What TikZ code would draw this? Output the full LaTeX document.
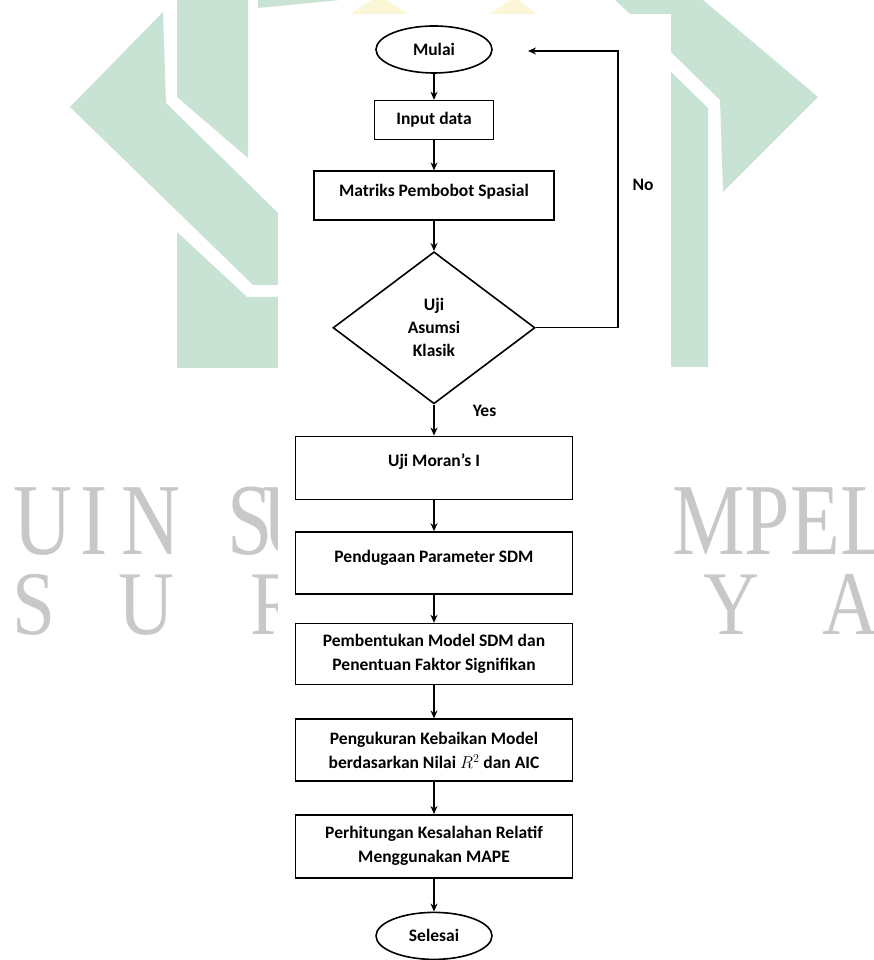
\documentclass[tikz,border=0pt]{standalone}
\usepackage{fontspec}
\setmainfont{Carlito}
\newfontfamily\wmfont{Liberation Serif}
\usepackage{graphicx}
\usetikzlibrary{positioning}
\usetikzlibrary{arrows.meta}
\usetikzlibrary{shapes.geometric}
\definecolor{wmgreen}{RGB}{200,226,212}
\definecolor{wmgray}{RGB}{200,200,200}
\definecolor{wmyellow}{RGB}{251,246,214}

\begin{document}
\begin{tikzpicture}[
            x = 1pt, y = 1pt,
            > = {Stealth[length=8pt, width=7pt]}, % arrow head style
            semithick % line style
            ]

        \tikzstyle{box}=[
            draw,
            line width = 1.6pt,
            rectangle,
            align = center,
            inner sep = 0pt,
            minimum width = 277pt,
            font = \fontsize{17.5}{24}\selectfont\bfseries
        ]
        \tikzstyle{term}=[
            draw,
            ellipse,
            line width = 1.6pt,
            minimum width = 116pt,
            minimum height = 47pt,
            inner sep = 0pt,
            font = \fontsize{17.5}{24}\selectfont\bfseries
        ]
        \tikzstyle{decide}=[
            draw,
            diamond,
            aspect = 1.32,
            line width = 1.6pt,
            minimum width = 202pt,
            minimum height = 152pt,
            inner sep = 0pt,
            align = center,
            font = \fontsize{17.5}{23}\selectfont\bfseries
        ]
        \tikzstyle{lbl}=[inner sep = 0pt, font = \fontsize{17.5}{24}\selectfont\bfseries]
        \tikzstyle{wmtop}=[inner sep = 0pt, anchor = base west, text = wmgray, font = \wmfont\fontsize{102}{102}\selectfont]
        \tikzstyle{wmlow}=[inner sep = 0pt, anchor = base west, text = wmgray, font = \wmfont\fontsize{91}{91}\selectfont]

        \useasboundingbox (0,0) rectangle (873,960);
        \fill[white] (0,0) rectangle (873,960);

        % watermark
        \fill[wmgreen] (70,853) -- (163,948) -- (166,857) -- (278,747) -- (278,675) -- (253,675) -- cycle;
        \fill[wmgreen] (177,960) -- (248,960) -- (248,802) -- (177,863) -- cycle;
        \fill[wmgreen] (258,960) -- (340,960) -- (258,952) -- cycle;
        \fill[wmgreen] (177,728) -- (247,663) -- (278,663) -- (278,592) -- (177,592) -- cycle;
        \fill[wmgreen] (615,960) -- (703,960) -- (818,863) -- (723,768) -- (720,860) -- (671,908) -- cycle;
        \fill[wmgreen] (671,888) -- (708,852) -- (708,593) -- (671,593) -- cycle;
        \fill[wmyellow] (350,946) -- (372,960) -- (386,960) -- (408,946) -- cycle;
        \fill[wmyellow] (490,946) -- (510,960) -- (518,960) -- (537,946) -- cycle;

        \foreach \ch/\px [count=\i] in {U/13, I/80, N/121, S/227, U/262, M/672, P/744, E/790, L/840}
            \node[wmtop] (wmtop\i) at (\px,405) {\scalebox{0.8}[1]{\ch}};
        \foreach \ch/\px [count=\i] in {S/12, U/118, R/250, Y/703, A/822}
            \node[wmlow] (wmlow\i) at (\px,325) {\scalebox{0.85}[1]{\ch}};

        \fill[white] (278,0) rectangle (671,946);

        % flow steps
        \node[term] (mulai) at (434,910.5) {Mulai};
        \node[box, minimum width = 119pt, minimum height = 39pt] (input) [below = 26pt of mulai] {Input data};
        \node[box, minimum width = 240pt, minimum height = 49pt, text height = 13pt, text depth = 10.8pt] (matriks) [below = 30pt of input] {Matriks Pembobot Spasial};
        \node[decide] (uji) [below = 30pt of matriks] {Uji\\Asumsi\\Klasik};
        \node[box, minimum height = 63pt, text height = 13pt, text depth = 14.8pt] (moran) [below = 31pt of uji] {Uji Moran’s I};
        \node[box, minimum height = 62pt, text height = 13pt, text depth = 14.8pt] (duga) [below = 31pt of moran] {Pendugaan Parameter SDM};
        \node[box, minimum height = 61pt] (bentuk) [below = 28pt of duga] {Pembentukan Model SDM dan\\Penentuan Faktor Signifikan};
        \node[box, minimum height = 62pt] (ukur) [below = 33pt of bentuk] {Pengukuran Kebaikan Model\\berdasarkan Nilai $R^2$ dan AIC};
        \node[box, minimum height = 63pt] (hitung) [below = 32pt of ukur] {Perhitungan Kesalahan Relatif\\Menggunakan MAPE};
        \node[term] (selesai) [below = 33pt of hitung] {Selesai};

        % connectors
        \path[->, line width = 1.3pt] (mulai) edge (input);
        \path[->, line width = 1.3pt] (input) edge (matriks);
        \path[->, line width = 1.3pt] (matriks) edge (uji);
        \path[->, line width = 1.3pt] (uji) edge (moran);
        \path[->, line width = 1.3pt] (moran) edge (duga);
        \path[->, line width = 1.3pt] (duga) edge (bentuk);
        \path[->, line width = 1.3pt] (bentuk) edge (ukur);
        \path[->, line width = 1.3pt] (ukur) edge (hitung);
        \path[->, line width = 1.3pt] (hitung) edge (selesai);

        % back loop
        \coordinate (noturn) at (618,909);
        \coordinate (noend) at (528,909);
        \draw[->, line width = 1.3pt] (uji.east) -| (noturn) -- (noend);
        \node[lbl] (nolbl) at (643,775) {No};
        \node[lbl] (yeslbl) at (484.5,549) {Yes};

\end{tikzpicture}
\end{document}
